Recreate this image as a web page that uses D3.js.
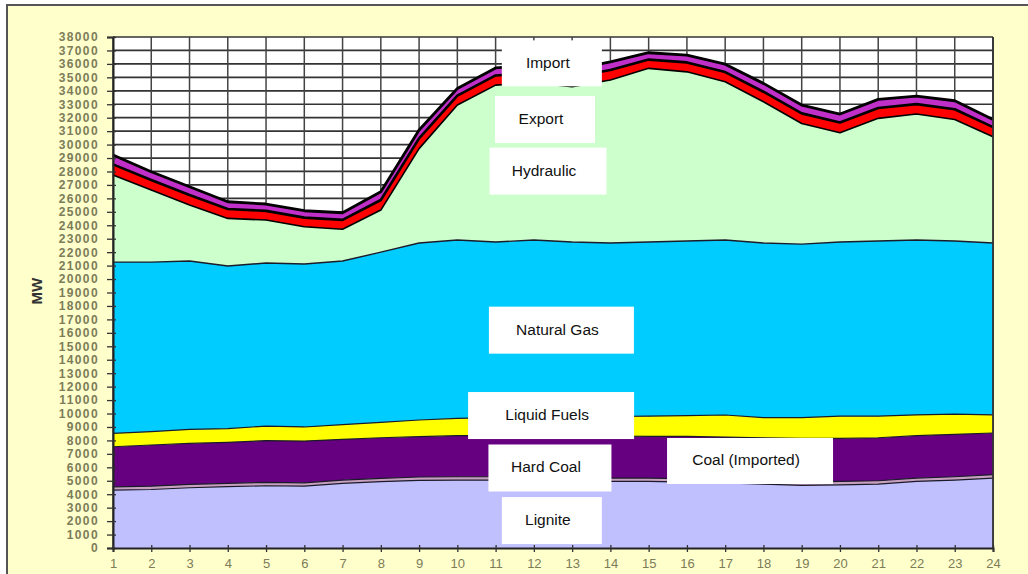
<!DOCTYPE html>
<html>
<head>
<meta charset="utf-8">
<script src="https://cdn.jsdelivr.net/npm/d3@7"></script>
<style>
  body { margin: 0; background: #fff; }
  svg { display: block; font-family: "Liberation Sans", Arial, sans-serif; }
</style>
</head>
<body>
<div id="chart"></div>
<script>
// DATA (MW per hour, stacked bottom to top)
const hours = [1,2,3,4,5,6,7,8,9,10,11,12,13,14,15,16,17,18,19,20,21,22,23,24]
const layerNames = ["Lignite","Coal (Imported)","Hard Coal","Liquid Fuels","Natural Gas","Hydraulic","Export","Import"]

const lignite   = [4300,4350,4480,4560,4630,4600,4800,4930,5030,5050,5050,5050,5000,4950,4950,4900,4850,4750,4650,4700,4750,4950,5050,5200]
const coalImp   = [250,250,250,250,250,250,250,250,250,250,250,250,250,250,250,250,250,250,250,250,250,250,250,250]
const hardCoal  = [2980,3060,3050,3050,3100,3100,3030,3020,3000,3050,3050,3050,3100,3130,3100,3150,3150,3200,3250,3200,3200,3150,3150,3100]
const liquid    = [1000,990,1040,1010,1090,1050,1090,1140,1240,1290,1350,1400,1400,1450,1500,1550,1640,1500,1550,1650,1600,1550,1500,1350]
const gas       = [12730,12610,12520,12100,12120,12120,12170,12660,13160,13260,13050,13150,13000,12900,12950,12980,13010,12980,12900,12950,13030,13000,12880,12780]
const hydro     = [6470,5360,4160,3540,3200,2770,2360,3130,7020,10040,11670,11700,11550,12120,12920,12580,11770,10500,8970,8130,9120,9370,9040,7900]
const exportMW  = [800,750,750,700,680,680,700,750,760,700,720,720,720,750,650,700,720,750,750,760,770,740,760,720]
const importMW  = [690,610,610,540,510,510,530,610,620,530,560,580,580,600,510,540,590,620,620,630,640,600,630,570]

const yTicks = d3.range(0, 38001, 1000)

const series = [lignite, coalImp, hardCoal, liquid, gas, hydro, exportMW, importMW]
const colors = ["#c0c0ff","#c8a0c0","#660080","#ffff00","#00ccff","#ccffcc","#ff0000","#c030c8"]
const edgeWidth = [1.2, 1.2, 1.2, 1.2, 1.4, 1.6, 2.6, 2.8]

// annotation boxes: centre in hour / MW, box size in px
const notes = [
  {text:"Import",          h:12.47, mw:36040, w:100, ht:46},
  {text:"Export",          h:12.29, mw:31860, w:100, ht:47},
  {text:"Hydraulic",       h:12.37, mw:28030, w:117, ht:47},
  {text:"Natural Gas",     h:12.72, mw:16200, w:145, ht:47},
  {text:"Liquid Fuels",    h:12.45, mw:9850,  w:166, ht:47},
  {text:"Hard Coal",       h:12.42, mw:5950,  w:123, ht:47},
  {text:"Lignite",         h:12.47, mw:2040,  w:100, ht:47},
  {text:"Coal (Imported)", h:17.65, mw:6470,  w:166, ht:46}
]

const table = hours.map((h, i) => {
  const row = {hour: h}
  layerNames.forEach((k, j) => row[k] = series[j][i])
  return row
})

const width = 1028, height = 574

const xScale = d3.scaleLinear().domain([1, 24]).range([113, 993])
const yScale = d3.scaleLinear().domain([0, 38000]).range([548, 37])

const svg = d3.select("#chart").append("svg")
  .attr("width", width)
  .attr("height", height)

// background frame
svg.append("rect").attr("x", 7).attr("y", 5).attr("width", width - 7).attr("height", height - 5)
  .attr("fill", "#ffffcc")
svg.append("path").attr("d", `M7,${height} V5 H${width}`)
  .attr("fill", "none").attr("stroke", "#555").attr("stroke-width", 2)

// plot area
svg.append("rect")
  .attr("x", xScale(1)).attr("y", yScale(38000))
  .attr("width", xScale(24) - xScale(1)).attr("height", yScale(0) - yScale(38000))
  .attr("fill", "#fff")

// grid
svg.append("g")
  .selectAll("line")
  .data(yTicks)
  .join("line")
    .attr("x1", xScale(1)).attr("x2", xScale(24))
    .attr("y1", d => yScale(d)).attr("y2", d => yScale(d))
    .attr("stroke", "#333").attr("stroke-width", 1.7)
svg.append("g")
  .selectAll("line")
  .data(hours)
  .join("line")
    .attr("x1", d => xScale(d)).attr("x2", d => xScale(d))
    .attr("y1", yScale(38000)).attr("y2", yScale(0))
    .attr("stroke", "#444").attr("stroke-width", 1.5)

// STACKED AREAS
const stacked = d3.stack().keys(layerNames)(table)

const area = d3.area()
  .x(d => xScale(d.data.hour))
  .y0(d => yScale(d[0]))
  .y1(d => yScale(d[1]))

const topLine = d3.line()
  .x(d => xScale(d.data.hour))
  .y(d => yScale(d[1]))

svg.append("g")
  .selectAll("path")
  .data(stacked)
  .join("path")
    .attr("d", area)
    .attr("fill", (d, i) => colors[i])

svg.append("g")
  .selectAll("path")
  .data(stacked)
  .join("path")
    .attr("d", topLine)
    .attr("fill", "none")
    .attr("stroke", (d, i) => i < 5 ? "#1a1a2a" : "#000")
    .attr("stroke-width", (d, i) => edgeWidth[i])
    .attr("stroke-linejoin", "round")

// axes
const yAxis = d3.axisLeft(yScale).tickValues(yTicks).tickSize(6).tickPadding(8).tickFormat(d3.format("d"))
const xAxis = d3.axisBottom(xScale).tickValues(hours).tickSize(4).tickPadding(7).tickFormat(d3.format("d"))

const gy = svg.append("g")
  .attr("transform", `translate(${xScale(1)},0)`)
  .call(yAxis)
gy.select(".domain").attr("stroke", "#222").attr("stroke-width", 2)
gy.selectAll(".tick line").attr("stroke", "#333").attr("x2", -6).attr("x1", 3).attr("stroke-width", 1.3)
gy.selectAll(".tick text")
  .attr("fill", "#7c7c58").attr("font-size", 12).attr("font-weight", "bold")
  .attr("letter-spacing", 1.4)
  .attr("font-family", "Liberation Sans, Arial, sans-serif")

const gx = svg.append("g")
  .attr("transform", `translate(0,${yScale(0)})`)
  .call(xAxis)
gx.select(".domain").attr("stroke", "#222").attr("stroke-width", 2)
gx.selectAll(".tick line").attr("stroke", "#333").attr("y1", -3).attr("y2", 4).attr("stroke-width", 1.3)
gx.selectAll(".tick text")
  .attr("fill", "#7c7c58").attr("font-size", 13)
  .attr("font-family", "Liberation Sans, Arial, sans-serif")

// right border of plot
svg.append("line")
  .attr("x1", xScale(24)).attr("x2", xScale(24))
  .attr("y1", yScale(38000)).attr("y2", yScale(0))
  .attr("stroke", "#333").attr("stroke-width", 1.8)

// y axis title
svg.append("text")
  .attr("transform", `translate(42,${yScale(19100)}) rotate(-90)`)
  .attr("text-anchor", "middle")
  .attr("font-size", 15).attr("font-weight", "bold")
  .attr("fill", "#333")
  .text("MW")

// ANNOTATION BOXES
const noteG = svg.append("g")
  .selectAll("g")
  .data(notes)
  .join("g")
    .attr("transform", d => `translate(${xScale(d.h)},${yScale(d.mw)})`)
noteG.append("rect")
  .attr("x", d => -d.w / 2).attr("y", d => -d.ht / 2)
  .attr("width", d => d.w).attr("height", d => d.ht)
  .attr("fill", "#fff")
noteG.append("text")
  .attr("x", -4).attr("y", -1)
  .attr("text-anchor", "middle")
  .attr("dominant-baseline", "central")
  .attr("font-size", 15.5)
  .attr("fill", "#111")
  .text(d => d.text)
</script>
</body>
</html>
